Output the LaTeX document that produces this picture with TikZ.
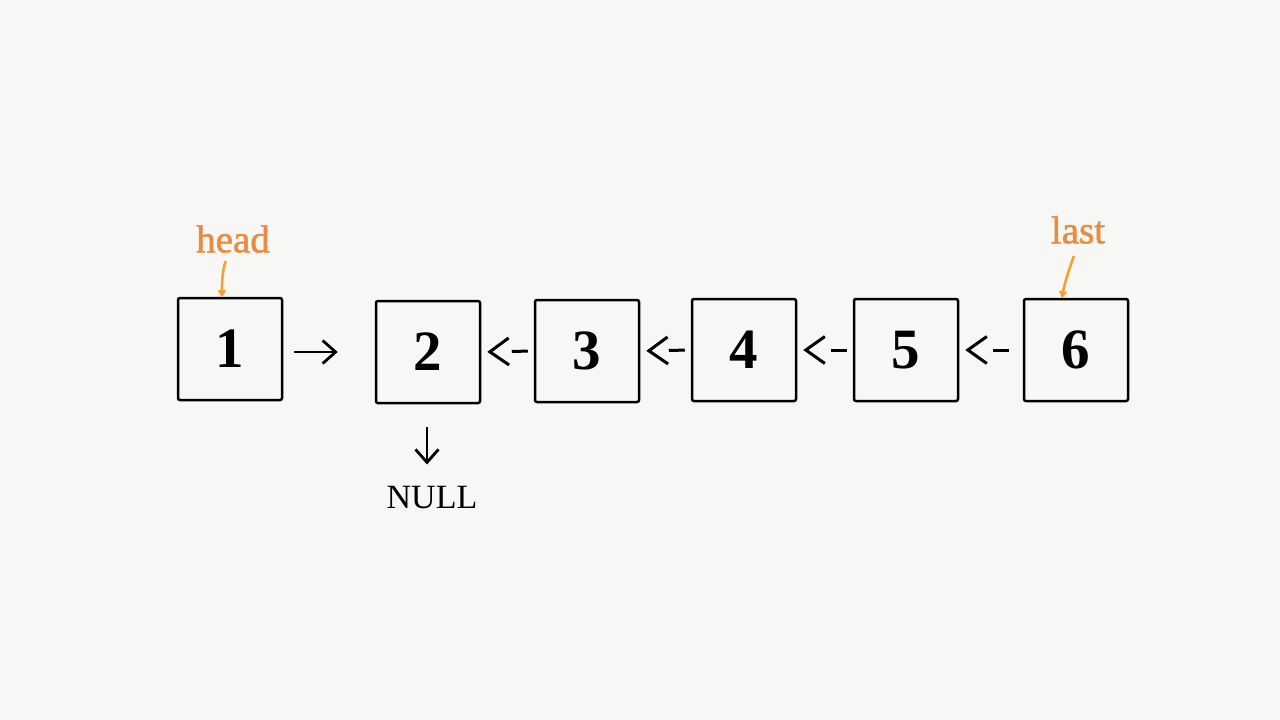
\documentclass[tikz,border=0pt]{standalone}
\usepackage{fontspec}
\setmainfont{Liberation Serif}
\newfontfamily\lblfont[FakeBold=1.3]{Liberation Serif}
\usetikzlibrary{arrows.meta}
\definecolor{bgc}{RGB}{247,247,245}
\definecolor{orng}{RGB}{232,140,66}
\definecolor{ptrc}{RGB}{242,163,48}
\tikzset{
  box/.style={draw=black, line width=2.5pt, rounded corners=2pt, minimum width=104pt, minimum height=102pt, inner sep=0pt, font=\fontsize{57pt}{57pt}\selectfont\bfseries},
  lbl/.style={text=orng, font=\fontsize{39pt}{39pt}\lblfont, inner sep=0pt},
  ptr/.style={draw=ptrc, line width=2.6pt, -{Latex[length=8pt,width=10pt,round]}},
  fwd/.style={line width=2.8pt, -{Straight Barb[length=13pt,width=23pt]}},
  back/.style={line width=3pt, -{Straight Barb[length=19pt,width=27pt]}, dash pattern=on 16pt off 60pt, shorten >=6pt, shorten <=6pt},
}
\begin{document}
\begin{tikzpicture}[x=1pt,y=-1pt]
\fill[bgc] (0,0) rectangle (1280,720);
\useasboundingbox (0,0) rectangle (1280,720);
\node[box] (b1) at (230,349) {1};
\node[box] (b2) at (428,352) {2};
\node[box] (b3) at (587,351) {3};
\node[box] (b4) at (744,350) {4};
\node[box] (b5) at (906,350) {5};
\node[box] (b6) at (1076,350) {6};
\node[lbl] (head) at (233,239) {head};
\node[lbl] (last) at (1078,230) {last};
\node[inner sep=0pt, font=\fontsize{34pt}{34pt}\selectfont] (null) at (432,498) {NULL};
\draw[ptr] (head.south) ++(-7,8) .. controls +(-4,8) and +(0,-10) .. (b1.north -| 222,0);
\draw[ptr] (last.south) ++(-4,12) .. controls +(-4,10) and +(2,-12) .. (b6.north -| 1062,0);
\draw[fwd, shorten <=11pt, shorten >=37pt] (b1.east |- b2) -- (b2.west);
\draw[fwd, shorten <=23pt, shorten >=22pt] (b2.south -| 427,0) -- (null.north -| 427,0);
\draw[back] (b3.west) -- (b2.east);
\draw[back] (b4.west) -- (b3.east);
\draw[back] (b5.west) -- (b4.east);
\draw[back, shorten <=14pt] (b6.west) -- (b5.east);
\end{tikzpicture}
\end{document}
